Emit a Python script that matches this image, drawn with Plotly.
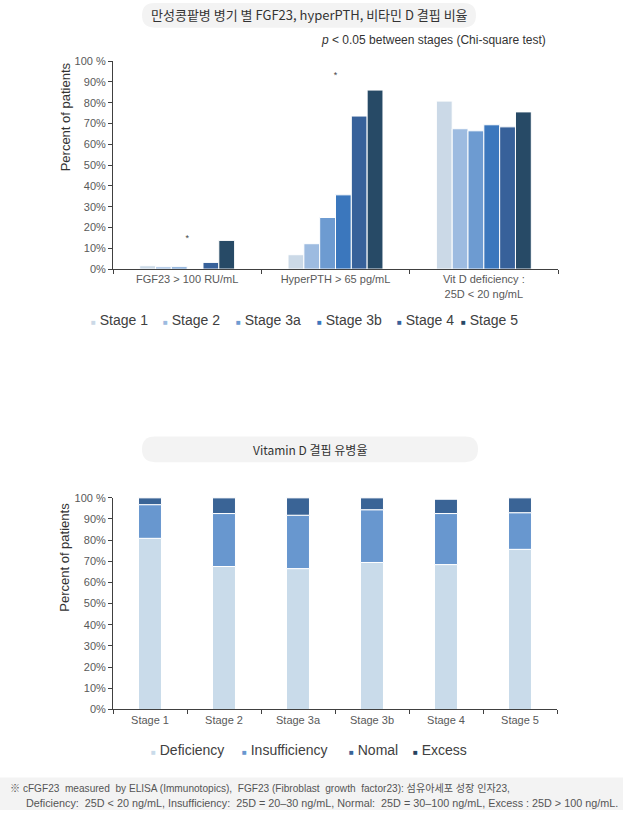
import plotly.graph_objects as go
import numpy as np

W, H = 623, 815

# ---------------- data: top chart ----------------
top_categories = ["FGF23 &gt; 100 RU/mL", "HyperPTH &gt; 65 pg/mL", "Vit D deficiency :<br>25D &lt; 20 ng/mL"]
stage_names = ["Stage 1", "Stage 2", "Stage 3a", "Stage 3b", "Stage 4", "Stage 5"]
stage1_vals = [1.6, 6.9, 80.8]
stage2_vals = [1.1, 12.2, 67.5]
stage3a_vals = [1.1, 24.8, 66.5]
stage3b_vals = [0.0, 35.7, 69.4]
stage4_vals = [3.2, 73.6, 68.4]
stage5_vals = [13.8, 86.1, 75.6]
stage_colors = ["#cbd9e7", "#9dbbe0", "#6d9bd1", "#3b77bd", "#37619a", "#274a66"]
sig_categories = [top_categories[0], top_categories[1]]
sig_values = [14.5, 93.0]

# ---------------- data: bottom chart ----------------
vd_stages = ["Stage 1", "Stage 2", "Stage 3a", "Stage 3b", "Stage 4", "Stage 5"]
vd_groups = ["Deficiency", "Insufficiency", "Nomal", "Excess"]
deficiency = [80.8, 67.5, 66.5, 69.4, 68.4, 75.6]
insufficiency = [15.9, 25.0, 25.2, 24.9, 24.1, 17.3]
normal = [3.3, 7.5, 8.3, 5.7, 6.9, 7.1]
excess = [0.0, 0.0, 0.0, 0.0, 0.0, 0.0]
vd_colors = ["#c9dbea", "#6897cf", "#3a6496", "#26435e"]

y_ticks = [0, 10, 20, 30, 40, 50, 60, 70, 80, 90, 100]
y_ticktext = ["0%", "10%", "20%", "30%", "40%", "50%", "60%", "70%", "80%", "90%", "100 %"]

# legend entry text positions (pixels)
top_legend_x = [93, 165, 238, 319, 399, 463]
bottom_legend_x = [153, 244, 351, 415]


def px(x):
    return x / W


def py(y):
    return 1 - y / H


fig = go.Figure()

# top grouped bars
top_series = [stage1_vals, stage2_vals, stage3a_vals, stage3b_vals, stage4_vals, stage5_vals]
for name, vals, col in zip(stage_names, top_series, stage_colors):
    fig.add_trace(go.Bar(
        x=top_categories, y=vals, name=name, marker=dict(color=col, line=dict(color="white", width=1)),
        xaxis="x", yaxis="y", showlegend=False, hoverinfo="y+name"))

fig.add_trace(go.Scatter(
    x=sig_categories, y=sig_values, mode="text", text=["*", "*"], showlegend=False,
    textfont=dict(size=9, color="#444444"), xaxis="x", yaxis="y", hoverinfo="skip"))

# bottom stacked bars (explicit bases)
vd_series = [deficiency, insufficiency, normal, excess]
base = np.zeros(len(vd_stages))
for name, vals, col in zip(vd_groups, vd_series, vd_colors):
    v = np.array(vals, dtype=float)
    fig.add_trace(go.Bar(
        x=vd_stages, y=v, base=base.copy(), name=name, offsetgroup="vd", width=0.31,
        marker=dict(color=col, line=dict(color="white", width=1)),
        xaxis="x2", yaxis="y2", showlegend=False))
    base = base + v

axis_common = dict(showline=True, linecolor="#404040", linewidth=1, ticks="outside", ticklen=4,
                   tickcolor="#404040", showgrid=False, zeroline=False,
                   tickfont=dict(size=11, color="#595959", family="Liberation Sans, Noto Sans CJK KR"))

shapes = []


def pill(x0, x1, y0, y1, color="#f3f3f3"):
    r = (y1 - y0) / 2
    rx, ry = r / W, r / H
    X0, X1, Y0, Y1 = px(x0), px(x1), py(y1), py(y0)
    path = (f"M {X0+rx},{Y0} L {X1-rx},{Y0} Q {X1},{Y0} {X1},{Y0+ry} L {X1},{Y1-ry} "
            f"Q {X1},{Y1} {X1-rx},{Y1} L {X0+rx},{Y1} Q {X0},{Y1} {X0},{Y1-ry} "
            f"L {X0},{Y0+ry} Q {X0},{Y0} {X0+rx},{Y0} Z")
    return dict(type="path", xref="paper", yref="paper", path=path, fillcolor=color,
                line=dict(width=0), layer="below")


shapes.append(pill(142, 476, -3, 22))
shapes.append(pill(142, 478, 437, 463))
shapes.append(dict(type="rect", xref="paper", yref="paper", x0=0, x1=1, y0=py(816), y1=py(783),
                   fillcolor="#f3f3f3", line=dict(width=0), layer="below"))

ann_font = "Liberation Sans, Noto Sans CJK KR"
nb = "\u00a0"
annotations = [
    dict(text="만성콩팥병 병기 별 FGF23, hyperPTH, 비타민 D 결핍 비율", x=px(309), y=py(9),
         xref="paper", yref="paper", showarrow=False, xanchor="center", yanchor="middle",
         font=dict(size=13, color="#333333", family="Noto Sans CJK KR")),
    dict(text="<i>p</i> &lt; 0.05 between stages (Chi-square test)", x=px(548), y=py(35),
         xref="paper", yref="paper", showarrow=False, xanchor="right", yanchor="middle",
         font=dict(size=12, color="#333333", family=ann_font)),
    dict(text="Percent of patients", x=px(65), y=py(113), textangle=-90,
         xref="paper", yref="paper", showarrow=False, xanchor="center", yanchor="middle",
         font=dict(size=13, color="#333333", family=ann_font)),
    dict(text="Vitamin D 결핍 유병율", x=px(310), y=py(450),
         xref="paper", yref="paper", showarrow=False, xanchor="center", yanchor="middle",
         font=dict(size=12, color="#333333", family="Noto Sans CJK KR")),
    dict(text="Percent of patients", x=px(65), y=py(560), textangle=-90,
         xref="paper", yref="paper", showarrow=False, xanchor="center", yanchor="middle",
         font=dict(size=13, color="#333333", family=ann_font)),
    dict(text=f"※ cFGF23{nb} measured{nb} by ELISA (Immunotopics),{nb} FGF23 (Fibroblast{nb} growth{nb} factor23): 섬유아세포 성장 인자23,",
         x=px(8), y=py(794), xref="paper", yref="paper", showarrow=False, xanchor="left", yanchor="middle",
         font=dict(size=10.1, color="#555555", family=ann_font)),
    dict(text=f"Deficiency:{nb} 25D &lt; 20 ng/mL, Insufficiency:{nb} 25D = 20–30 ng/mL, Normal:{nb} 25D = 30–100 ng/mL, Excess : 25D &gt; 100 ng/mL.",
         x=px(24), y=py(809), xref="paper", yref="paper", showarrow=False, xanchor="left", yanchor="middle",
         font=dict(size=10.8, color="#555555", family=ann_font)),
]

# legends as text entries with coloured square glyphs
for name, col, lx in zip(stage_names, stage_colors, top_legend_x):
    annotations.append(dict(
        text=f"<span style='color:{col};font-size:8px'>■</span> {name}", x=px(lx - 4), y=py(319),
        xref="paper", yref="paper", showarrow=False, xanchor="left", yanchor="middle",
        font=dict(size=14, color="#404040", family=ann_font)))
for name, col, lx in zip(vd_groups, vd_colors, bottom_legend_x):
    annotations.append(dict(
        text=f"<span style='color:{col};font-size:8px'>■</span> {name}", x=px(lx - 4), y=py(755),
        xref="paper", yref="paper", showarrow=False, xanchor="left", yanchor="middle",
        font=dict(size=14, color="#404040", family=ann_font)))

fig.update_layout(
    width=W, height=H, margin=dict(l=0, r=0, t=0, b=0),
    paper_bgcolor="white", plot_bgcolor="white",
    barmode="group", bargap=0.36, bargroupgap=0, showlegend=False,
    font=dict(family=ann_font, color="#404040"),
    xaxis=dict(domain=[px(113), px(558)], anchor="y", tickson="boundaries", **axis_common),
    yaxis=dict(domain=[py(267), py(56)], anchor="x", range=[0, 100], tickvals=y_ticks,
               ticktext=y_ticktext, **axis_common),
    xaxis2=dict(domain=[px(113), px(557)], anchor="y2", tickson="boundaries", **axis_common),
    yaxis2=dict(domain=[py(714), py(499)], anchor="x2", range=[0, 100], tickvals=y_ticks,
                ticktext=y_ticktext, **axis_common),
    shapes=shapes, annotations=annotations,
)

fig.write_html("out.html", config={"displayModeBar": False},
               post_script="document.body.style.margin='0px';")
